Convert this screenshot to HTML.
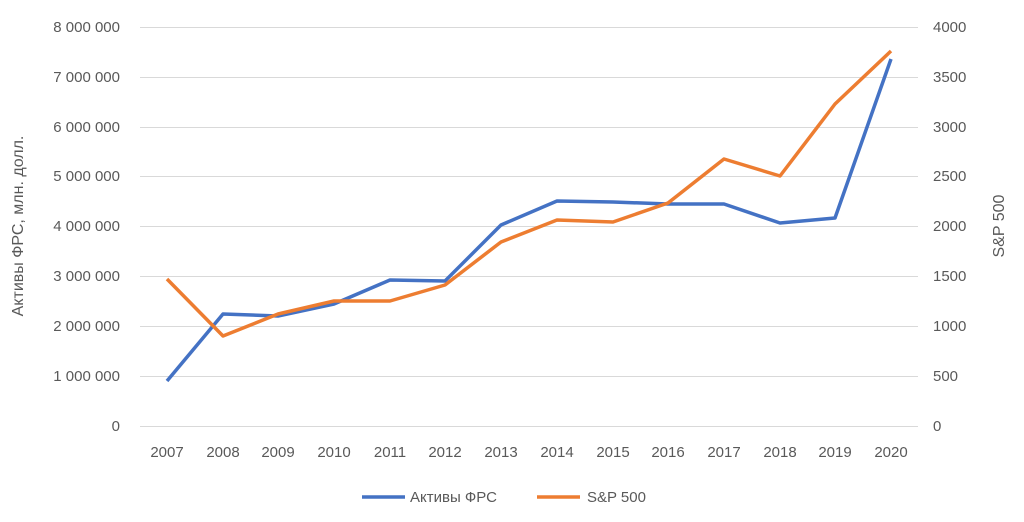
<!DOCTYPE html>
<html><head><meta charset="utf-8"><style>
body{margin:0;background:#fff;}
svg text{font-family:"Liberation Sans",sans-serif;font-size:15px;fill:#595959;}
</style></head><body>
<svg width="1024" height="517" xmlns="http://www.w3.org/2000/svg">
<g stroke="#d9d9d9" stroke-width="1">
<line x1="140" x2="918" y1="27.5" y2="27.5"/><line x1="140" x2="918" y1="77.5" y2="77.5"/>
<line x1="140" x2="918" y1="127.5" y2="127.5"/><line x1="140" x2="918" y1="176.5" y2="176.5"/>
<line x1="140" x2="918" y1="226.5" y2="226.5"/><line x1="140" x2="918" y1="276.5" y2="276.5"/>
<line x1="140" x2="918" y1="326.5" y2="326.5"/><line x1="140" x2="918" y1="376.5" y2="376.5"/>
<line x1="140" x2="918" y1="426.5" y2="426.5"/>
</g>
<g text-anchor="end">
<text x="120" y="32">8 000 000</text><text x="120" y="82">7 000 000</text>
<text x="120" y="132">6 000 000</text><text x="120" y="181">5 000 000</text>
<text x="120" y="231">4 000 000</text><text x="120" y="281">3 000 000</text>
<text x="120" y="331">2 000 000</text><text x="120" y="381">1 000 000</text>
<text x="120" y="431">0</text>
</g>
<g text-anchor="start">
<text x="933" y="32">4000</text><text x="933" y="82">3500</text>
<text x="933" y="132">3000</text><text x="933" y="181">2500</text>
<text x="933" y="231">2000</text><text x="933" y="281">1500</text>
<text x="933" y="331">1000</text><text x="933" y="381">500</text>
<text x="933" y="431">0</text>
</g>
<g text-anchor="middle">
<text x="167" y="457">2007</text><text x="223" y="457">2008</text><text x="278" y="457">2009</text>
<text x="334" y="457">2010</text><text x="390" y="457">2011</text><text x="445" y="457">2012</text>
<text x="501" y="457">2013</text><text x="557" y="457">2014</text><text x="613" y="457">2015</text>
<text x="668" y="457">2016</text><text x="724" y="457">2017</text><text x="780" y="457">2018</text>
<text x="835" y="457">2019</text><text x="891" y="457">2020</text>
</g>
<text transform="translate(23,226) rotate(-90)" text-anchor="middle" style="font-size:16px">Активы ФРС, млн. долл.</text>
<text transform="translate(1004,226) rotate(-90)" text-anchor="middle" style="font-size:16px">S&amp;P 500</text>
<polyline fill="none" stroke="#4472c4" stroke-width="3.5" stroke-linejoin="round" points="167,381 223,314 278,316 334,304 390,280 445,281 501,225 557,201 613,202 668,204 724,204 780,223 835,218 891,59"/>
<polyline fill="none" stroke="#ed7d31" stroke-width="3.5" stroke-linejoin="round" points="167,279 223,336 278,314 334,301 390,301 445,285 501,242 557,220 613,222 668,203 724,159 780,176 835,104 891,51"/>
<line x1="362" x2="405" y1="497" y2="497" stroke="#4472c4" stroke-width="3.5"/>
<text x="410" y="502">Активы ФРС</text>
<line x1="537" x2="580" y1="497" y2="497" stroke="#ed7d31" stroke-width="3.5"/>
<text x="587" y="502">S&amp;P 500</text>
</svg>
</body></html>
